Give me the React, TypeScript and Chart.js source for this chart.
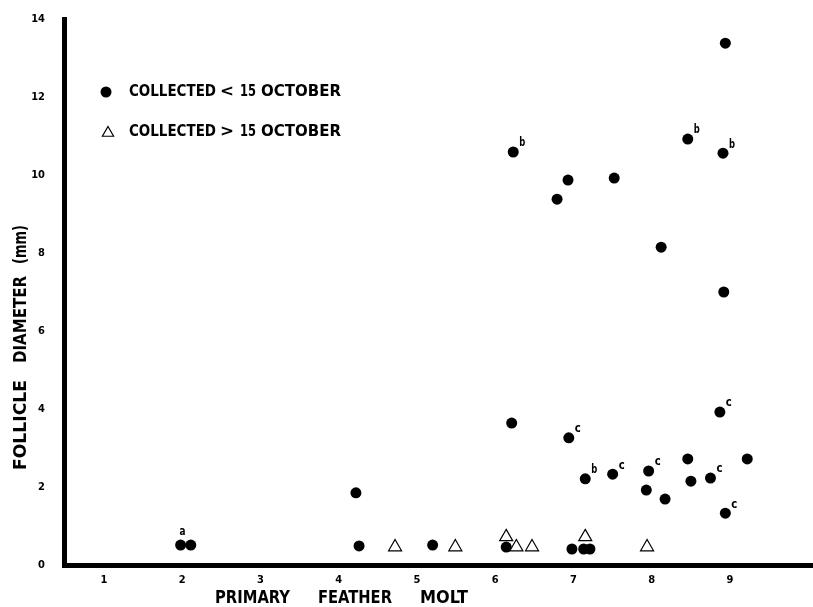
import React, { useEffect, useRef } from "react";
import { Chart, registerables } from "chart.js";

Chart.register(...registerables);

// Collected before 15 October (filled circles)
const FILLED_X = [1.98, 2.11, 4.22, 4.26, 5.2, 6.14, 6.21, 6.23, 6.79, 6.93, 6.94, 6.98, 7.13, 7.21, 7.15, 7.5, 7.52, 7.93, 7.96, 8.12, 8.17, 8.46, 8.5, 8.46, 8.75, 8.87, 8.94, 8.91, 8.92, 8.94, 9.22];
const FILLED_Y = [0.51, 0.51, 1.85, 0.49, 0.51, 0.46, 3.64, 10.59, 9.38, 9.87, 3.26, 0.41, 0.41, 0.41, 2.21, 2.33, 9.92, 1.92, 2.41, 8.15, 1.69, 2.72, 2.15, 10.92, 2.23, 3.92, 13.38, 10.56, 7.0, 1.33, 2.72];
const FILLED_NOTES = ["a", "", "", "", "", "", "", "b", "", "", "c", "", "", "", "b", "c", "", "", "c", "", "", "", "", "b", "c", "c", "", "b", "", "c", ""];

// Collected after 15 October (open triangles)
const OPEN_X = [4.72, 5.49, 6.14, 6.27, 6.47, 7.15, 7.94];
const OPEN_Y = [0.46, 0.46, 0.72, 0.46, 0.46, 0.72, 0.46];

const X_TICKS = [1, 2, 3, 4, 5, 6, 7, 8, 9];
const Y_TICKS = [0, 2, 4, 6, 8, 10, 12, 14];

const X_TITLE_WORDS = ["PRIMARY", "FEATHER", "MOLT"];
const Y_TITLE_WORDS = ["FOLLICLE", "DIAMETER", "(mm)"];
const LEGEND_ROWS = [
  ["COLLECTED", "<", "15", "OCTOBER"],
  ["COLLECTED", ">", "15", "OCTOBER"],
];

const FONT = "'DejaVu Sans Condensed', 'Liberation Sans Narrow', 'DejaVu Sans', sans-serif";

function fitText(ctx: CanvasRenderingContext2D, text: string, x: number, y: number, w: number, font: string) {
  ctx.save();
  ctx.font = font;
  ctx.textAlign = "left";
  ctx.textBaseline = "middle";
  const m = ctx.measureText(text).width || 1;
  ctx.translate(x, y);
  ctx.scale(w / m, 1);
  ctx.fillStyle = "#000";
  ctx.fillText(text, 0, 0);
  ctx.restore();
}

const annotationPlugin = {
  id: "annotations",
  afterDatasetsDraw(chart: any) {
    const ctx: CanvasRenderingContext2D = chart.ctx;
    const meta = chart.getDatasetMeta(0);
    meta.data.forEach((el: any, i: number) => {
      const note = FILLED_NOTES[i];
      if (!note) return;
      if (note === "a") {
        fitText(ctx, note, el.x - 1, el.y - 13, 6, `bold 13px ${FONT}`);
      } else {
        fitText(ctx, note, el.x + 6, el.y - 9, 6, `bold 13px ${FONT}`);
      }
    });
  },
  afterDraw(chart: any) {
    const ctx: CanvasRenderingContext2D = chart.ctx;
    const titleFont = `bold 18px ${FONT}`;
    // x title
    const xw = [[215, 75], [318, 74], [420, 48]];
    X_TITLE_WORDS.forEach((w, i) => fitText(ctx, w, xw[i][0], 598, xw[i][1], titleFont));
    // y title (rotated)
    ctx.save();
    ctx.translate(21, 470);
    ctx.rotate(-Math.PI / 2);
    const yw = [[0, 90], [107, 87], [206, 39]];
    Y_TITLE_WORDS.forEach((w, i) => fitText(ctx, w, yw[i][0], 0, yw[i][1], titleFont));
    ctx.restore();
    // legend
    const legFont = `bold 16px ${FONT}`;
    const rowsY = [92, 132];
    const cols = [[129, 87], [220, 14], [240, 16], [261, 80]];
    LEGEND_ROWS.forEach((row, r) => {
      row.forEach((w, i) => fitText(ctx, w, cols[i][0], rowsY[r], cols[i][1], legFont));
    });
    ctx.save();
    ctx.fillStyle = "#000";
    ctx.beginPath();
    ctx.arc(106, rowsY[0], 5.5, 0, Math.PI * 2);
    ctx.fill();
    ctx.strokeStyle = "#000";
    ctx.lineWidth = 1.2;
    const r = 6.5;
    const cx = 108, cy = rowsY[1] + 1;
    ctx.beginPath();
    ctx.moveTo(cx, cy - r);
    ctx.lineTo(cx + r * Math.sin((2 * Math.PI) / 3), cy - r * Math.cos((2 * Math.PI) / 3));
    ctx.lineTo(cx + r * Math.sin((4 * Math.PI) / 3), cy - r * Math.cos((4 * Math.PI) / 3));
    ctx.closePath();
    ctx.stroke();
    ctx.restore();
  },
};

function zeroPad(axis: any) {
  axis.paddingLeft = 0;
  axis.paddingRight = 0;
  axis.paddingTop = 0;
  axis.paddingBottom = 0;
}

export default function App() {
  const ref = useRef<HTMLCanvasElement | null>(null);
  useEffect(() => {
    if (!ref.current) return;
    const chart = new Chart(ref.current, {
      type: "scatter",
      data: {
        datasets: [
          {
            label: "Collected < 15 October",
            data: FILLED_X.map((x, i) => ({ x, y: FILLED_Y[i] })),
            pointStyle: "circle",
            pointRadius: 5.5,
            backgroundColor: "#000",
            borderColor: "#000",
            borderWidth: 0,
            order: 2,
          },
          {
            label: "Collected > 15 October",
            data: OPEN_X.map((x, i) => ({ x, y: OPEN_Y[i] })),
            pointStyle: "triangle",
            pointRadius: 7.5,
            backgroundColor: "#fff",
            borderColor: "#000",
            borderWidth: 1.2,
            order: 1,
          },
        ],
      },
      options: {
        animation: false,
        responsive: false,
        devicePixelRatio: 1,
        layout: { autoPadding: false, padding: { top: 19, right: 0, bottom: 0, left: 0 } },
        plugins: { legend: { display: false }, tooltip: { enabled: false } },
        scales: {
          x: {
            type: "linear",
            min: 0.49,
            max: 10.06,
            grid: { display: false },
            border: { display: true, width: 5, color: "#000" },
            afterBuildTicks: (axis: any) => {
              axis.ticks = X_TICKS.map((v) => ({ value: v }));
            },
            afterFit: (axis: any) => {
              axis.height = 42;
              zeroPad(axis);
            },
            ticks: {
              color: "#000",
              padding: 1,
              font: { family: FONT, size: 11, weight: "bold" },
              maxRotation: 0,
              autoSkip: false,
            },
          },
          y: {
            type: "linear",
            min: 0,
            max: 14,
            grid: { display: false },
            border: { display: true, width: 5, color: "#000" },
            afterBuildTicks: (axis: any) => {
              axis.ticks = Y_TICKS.map((v) => ({ value: v }));
            },
            afterFit: (axis: any) => {
              axis.width = 64;
              zeroPad(axis);
            },
            ticks: {
              color: "#000",
              padding: 11,
              font: { family: FONT, size: 11, weight: "bold" },
              autoSkip: false,
            },
          },
        },
      },
      plugins: [annotationPlugin],
    } as any);
    return () => chart.destroy();
  }, []);
  return (
    <div style={{ position: "fixed", left: 0, top: 0, width: 813, height: 607, background: "#fff" }}>
      <canvas ref={ref} width={813} height={607} style={{ width: 813, height: 607 }} />
    </div>
  );
}
